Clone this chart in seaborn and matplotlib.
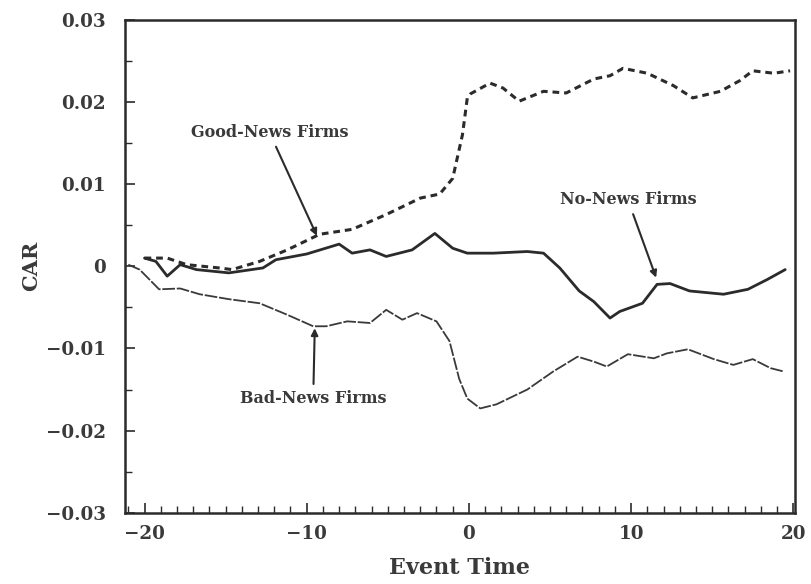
import matplotlib
matplotlib.use("Agg")
import matplotlib.pyplot as plt
import seaborn as sns
import pandas as pd
from matplotlib.ticker import MultipleLocator

# cumulative abnormal returns
good_t = [-20, -18.6, -17.4, -15.4, -14.6, -12.9, -11.2, -9.2, -7.2, -5.1, -3.0, -1.8,
          -1.0, -0.4, -0.1, 0.1, 1.3, 2.1, 3.1, 4.6, 6.0, 7.7, 8.7, 9.5, 11.0, 12.6,
          13.8, 15.5, 16.7, 17.5, 18.8, 19.8]
good_car = [0.001, 0.001, 0.0002, -0.0002, -0.0004, 0.0006, 0.002, 0.0039, 0.0045,
            0.0063, 0.0083, 0.0088, 0.0107, 0.016, 0.0205, 0.021, 0.0223, 0.0217,
            0.0201, 0.0213, 0.0211, 0.0228, 0.0232, 0.0241, 0.0235, 0.022, 0.0205,
            0.0213, 0.0226, 0.0238, 0.0235, 0.0238]

none_t = [-20, -19.3, -18.6, -17.8, -16.8, -14.8, -12.7, -11.9, -10, -8, -7.2, -6.1,
          -5.1, -3.5, -2.1, -1.0, -0.1, 1.5, 3.6, 4.6, 5.6, 6.8, 7.7, 8.7, 9.3, 10.7,
          11.6, 12.4, 13.6, 15.7, 17.2, 18.4, 19.5]
none_car = [0.001, 0.0006, -0.0012, 0.0002, -0.0004, -0.0008, -0.0002, 0.0008, 0.0015,
            0.0027, 0.0016, 0.002, 0.0012, 0.002, 0.004, 0.0022, 0.0016, 0.0016,
            0.0018, 0.0016, -0.0002, -0.003, -0.0043, -0.0063, -0.0055, -0.0045,
            -0.0022, -0.0021, -0.003, -0.0034, -0.0028, -0.0016, -0.0004]

bad_t = [-21, -20.3, -19.1, -17.8, -16.6, -14.8, -12.9, -11.2, -9.6, -8.8, -7.5, -6.1,
         -5.1, -4.1, -3.2, -2.0, -1.2, -0.6, -0.1, 0.7, 1.7, 3.6, 5.2, 6.7, 7.7, 8.5,
         9.8, 11.4, 12.2, 13.5, 15.1, 16.3, 17.5, 18.6, 19.4]
bad_car = [0.0002, -0.0004, -0.0028, -0.0027, -0.0034, -0.004, -0.0045, -0.0059,
           -0.0073, -0.0073, -0.0067, -0.0069, -0.0053, -0.0065, -0.0057, -0.0067,
           -0.0091, -0.0137, -0.0161, -0.0173, -0.0168, -0.015, -0.0128, -0.011,
           -0.0116, -0.0122, -0.0107, -0.0112, -0.0106, -0.0101, -0.0113, -0.012,
           -0.0113, -0.0124, -0.0128]

good = pd.DataFrame({"t": good_t, "car": good_car})
none = pd.DataFrame({"t": none_t, "car": none_car})
bad = pd.DataFrame({"t": bad_t, "car": bad_car})

sns.set_style("ticks")
plt.rcParams["font.family"] = ["DejaVu Serif"]

ink = "#2b2b2b"
txt = "#3a3a3a"
fig = plt.figure(figsize=(8.12, 5.84), dpi=100)
ax = fig.add_axes([0.154, 0.122, 0.825, 0.844])

sns.lineplot(data=good, x="t", y="car", ax=ax, color=ink, lw=2.2,
             linestyle=(0, (2.2, 1.6)), sort=False)
sns.lineplot(data=none, x="t", y="car", ax=ax, color=ink, lw=2.0, sort=False)
sns.lineplot(data=bad, x="t", y="car", ax=ax, color="#3a3a3a", lw=1.3,
             linestyle=(0, (7, 1)), sort=False)

ax.set_xlim(-21.2, 20.1)
ax.set_ylim(-0.03, 0.03)
ax.set_xticks([-20, -10, 0, 10, 20])
ax.set_yticks([-0.03, -0.02, -0.01, 0, 0.01, 0.02, 0.03])
ax.set_yticklabels(["\u22120.03", "\u22120.02", "\u22120.01", "0", "0.01", "0.02", "0.03"],
                   fontweight="bold")
ax.set_xticklabels(["\u221220", "\u221210", "0", "10", "20"], fontweight="bold")
ax.xaxis.set_minor_locator(MultipleLocator(1))
ax.yaxis.set_minor_locator(MultipleLocator(0.005))
ax.tick_params(which="both", direction="in", color=ink, labelsize=13.2,
               labelcolor=txt)
ax.tick_params(which="major", length=7, width=1.2)
ax.tick_params(which="minor", length=5, width=1.0)
ax.tick_params(axis="x", pad=9)
ax.tick_params(axis="y", pad=14)
for s in ax.spines.values():
    s.set_linewidth(1.8)
    s.set_color(ink)

ax.set_xlabel("Event Time", fontsize=16, fontweight="bold", color=txt, labelpad=10)
ax.set_ylabel("CAR", fontsize=15, fontweight="bold", color=txt, labelpad=3)

arrow = dict(arrowstyle="-|>", color=ink, lw=1.5, mutation_scale=10)
lab = dict(ha="center", va="center", fontsize=11.5, fontweight="bold", color=txt)
ax.annotate("Good-News Firms", xy=(-9.3, 0.0034), xytext=(-12.3, 0.0163),
            arrowprops=arrow, **lab)
ax.annotate("No-News Firms", xy=(11.6, -0.0017), xytext=(9.8, 0.0081),
            arrowprops=arrow, **lab)
ax.annotate("Bad-News Firms", xy=(-9.5, -0.0072), xytext=(-9.6, -0.0161),
            arrowprops=arrow, **lab)

plt.savefig("out.png", dpi=100)
